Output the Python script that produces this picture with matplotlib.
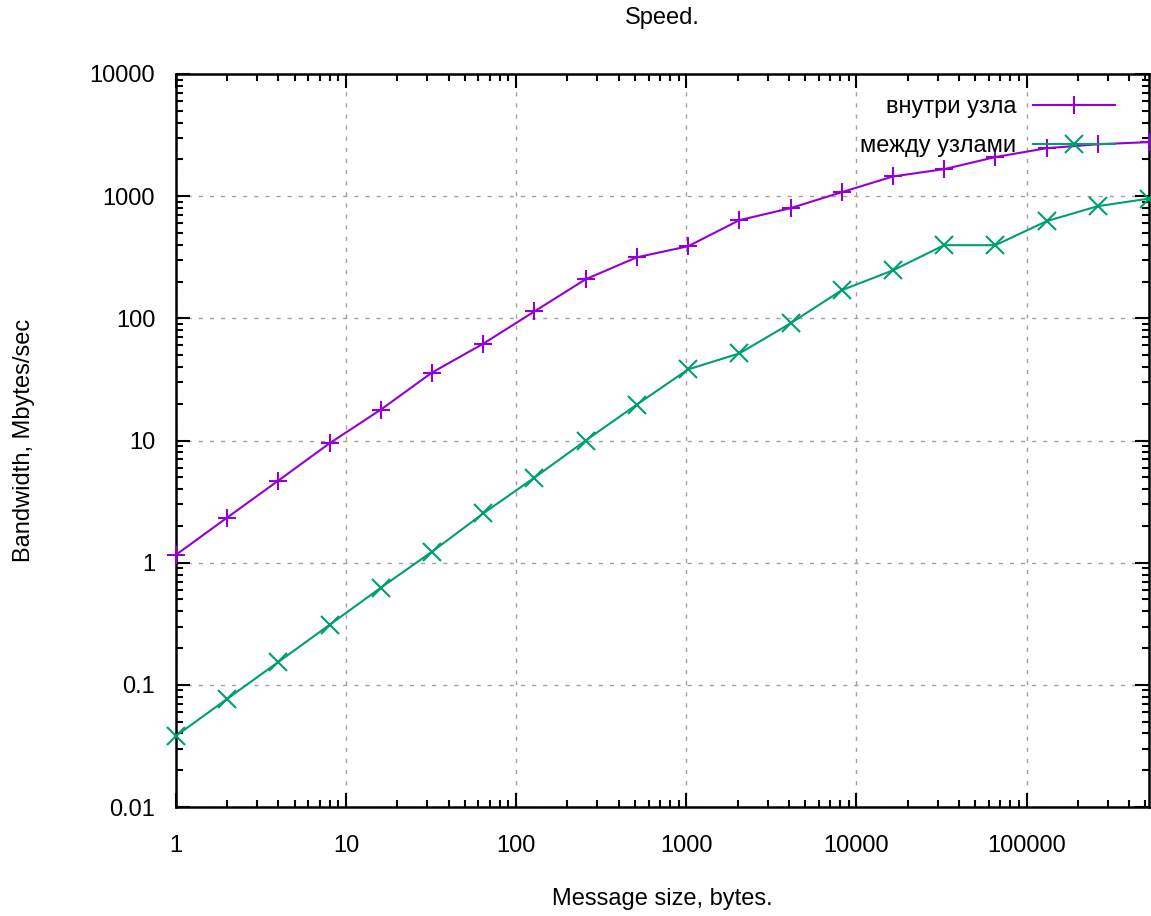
import matplotlib
matplotlib.use("Agg")
import matplotlib.pyplot as plt
from matplotlib.ticker import LogLocator, FuncFormatter, NullFormatter

plt.rcParams['font.family'] = ['Liberation Sans', 'DejaVu Sans']

# message sizes (bytes), powers of two
sizes = [1, 2, 4, 8, 16, 32, 64, 128, 256, 512, 1024, 2048, 4096, 8192,
         16384, 32768, 65536, 131072, 262144, 524288]

# bandwidth, Mbytes/sec
inside_node = [1.16, 2.34, 4.7, 9.5, 17.9, 36, 62, 114, 209, 316, 389, 636,
               798, 1078, 1450, 1664, 2090, 2470, 2660, 2770]
between_nodes = [0.0382, 0.0768, 0.154, 0.31, 0.624, 1.23, 2.53, 4.97, 10.0,
                 19.7, 38.2, 51.6, 91, 170, 247, 397, 397, 624, 828, 955]

labels = ['внутри узла', 'между узлами']
colors = ['#9400d3', '#009e73']
FS = 17

W, H = 1151, 916
fig = plt.figure(figsize=(W / 100, H / 100), dpi=100)
ax = fig.add_axes([176 / W, 1 - 807 / H, (1149 - 176) / W, (807 - 74) / H])

ax.plot(sizes, inside_node, color=colors[0], lw=1.5, marker='+', ms=13, mew=1.5,
        label=labels[0], clip_on=False, zorder=3)
ax.plot(sizes, between_nodes, color=colors[1], lw=1.5, marker='x', ms=13, mew=1.5,
        label=labels[1], clip_on=False, zorder=3)

ax.set_xscale('log')
ax.set_yscale('log')
ax.set_xlim(1, 524288)
ax.set_ylim(0.01, 10000)

fmt = FuncFormatter(lambda v, p: '%g' % v)
ax.xaxis.set_major_locator(LogLocator(base=10, numticks=20))
ax.yaxis.set_major_locator(LogLocator(base=10, numticks=20))
ax.xaxis.set_minor_locator(LogLocator(base=10, subs=range(2, 10), numticks=20))
ax.yaxis.set_minor_locator(LogLocator(base=10, subs=range(2, 10), numticks=20))
ax.xaxis.set_major_formatter(fmt)
ax.yaxis.set_major_formatter(fmt)
ax.xaxis.set_minor_formatter(NullFormatter())
ax.yaxis.set_minor_formatter(NullFormatter())

ax.tick_params(which='both', direction='in', top=True, right=True, width=1.5,
               labelsize=FS, colors='black')
ax.tick_params(which='major', length=10)
ax.tick_params(which='minor', length=5)
ax.tick_params(axis='x', which='major', pad=20)
ax.tick_params(axis='y', which='major', pad=15)
for s in ax.spines.values():
    s.set_linewidth(1.8)

ax.grid(True, which='major', color='#a0a0a0', lw=1, linestyle=(0, (3, 5)))

fig.text(662 / W, 1 - 18 / H, 'Speed.', fontsize=FS, ha='center', va='center')
fig.text(662 / W, 1 - 899 / H, 'Message size, bytes.', fontsize=FS,
         ha='center', va='center')
fig.text(24 / W, 1 - 440 / H, 'Bandwidth, Mbytes/sec', fontsize=FS,
         ha='center', va='center', rotation=90)

leg = ax.legend(loc='upper right', bbox_to_anchor=(0.975, 0.983), frameon=False,
                markerfirst=False, handlelength=3.5, fontsize=FS,
                labelspacing=0.72, borderaxespad=0, handletextpad=0.7)

fig.savefig('out.png', dpi=100)
